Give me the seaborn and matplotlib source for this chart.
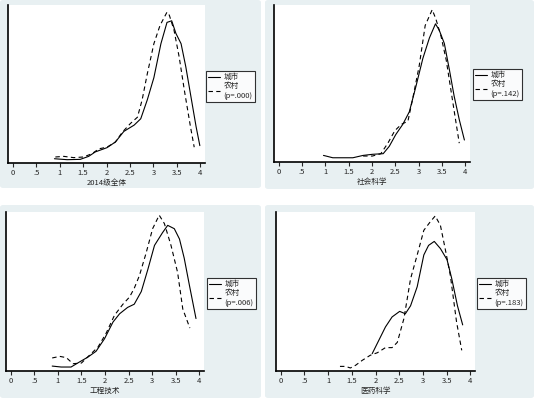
import matplotlib
matplotlib.use("Agg")
import matplotlib.pyplot as plt
import seaborn as sns
from matplotlib.patches import FancyBboxPatch

# curve points (score, relative density)
all_city_x = [0.89, 1.16, 1.44, 1.62, 1.76, 2.01, 2.19, 2.37, 2.59, 2.73, 2.87, 3.01, 3.16, 3.29, 3.39, 3.48, 3.59, 3.69, 3.80, 3.91, 3.99]
all_city_y = [0.027, 0.021, 0.023, 0.042, 0.07, 0.097, 0.133, 0.2, 0.24, 0.28, 0.40, 0.54, 0.755, 0.89, 0.90, 0.82, 0.755, 0.61, 0.42, 0.23, 0.11]
all_rural_x = [0.91, 1.09, 1.3, 1.51, 1.69, 1.84, 2.01, 2.19, 2.34, 2.51, 2.66, 2.76, 2.87, 3.01, 3.14, 3.29, 3.34, 3.44, 3.55, 3.66, 3.79, 3.87]
all_rural_y = [0.038, 0.042, 0.034, 0.038, 0.059, 0.09, 0.10, 0.133, 0.196, 0.25, 0.29, 0.40, 0.565, 0.755, 0.87, 0.955, 0.935, 0.84, 0.67, 0.46, 0.23, 0.10]

soc_city_x = [0.96, 1.16, 1.59, 1.81, 2.01, 2.24, 2.37, 2.51, 2.66, 2.8, 2.94, 3.09, 3.23, 3.36, 3.44, 3.55, 3.66, 3.76, 3.87, 3.98]
soc_city_y = [0.042, 0.027, 0.027, 0.042, 0.049, 0.053, 0.10, 0.175, 0.24, 0.32, 0.48, 0.66, 0.79, 0.88, 0.84, 0.755, 0.585, 0.42, 0.27, 0.14]
soc_rural_x = [1.81, 2.01, 2.19, 2.34, 2.49, 2.63, 2.77, 2.87, 3.01, 3.14, 3.29, 3.37, 3.48, 3.59, 3.69, 3.79, 3.87]
soc_rural_y = [0.038, 0.038, 0.053, 0.12, 0.20, 0.24, 0.26, 0.40, 0.61, 0.87, 0.97, 0.91, 0.80, 0.65, 0.46, 0.27, 0.12]

eng_city_x = [0.88, 1.07, 1.28, 1.46, 1.64, 1.81, 1.99, 2.17, 2.31, 2.48, 2.62, 2.77, 2.91, 3.05, 3.22, 3.33, 3.47, 3.58, 3.68, 3.79, 3.93]
eng_city_y = [0.031, 0.025, 0.025, 0.057, 0.088, 0.124, 0.203, 0.308, 0.36, 0.40, 0.42, 0.50, 0.64, 0.79, 0.87, 0.916, 0.895, 0.83, 0.71, 0.54, 0.33]
eng_rural_x = [0.88, 1.04, 1.18, 1.32, 1.50, 1.67, 1.85, 2.02, 2.2, 2.38, 2.52, 2.62, 2.73, 2.87, 3.01, 3.15, 3.26, 3.40, 3.54, 3.65, 3.80]
eng_rural_y = [0.082, 0.092, 0.084, 0.046, 0.05, 0.099, 0.15, 0.235, 0.35, 0.42, 0.465, 0.52, 0.60, 0.74, 0.895, 0.98, 0.927, 0.79, 0.62, 0.39, 0.27]

med_city_x = [1.93, 2.07, 2.21, 2.35, 2.51, 2.63, 2.74, 2.88, 3.02, 3.12, 3.24, 3.37, 3.51, 3.61, 3.73, 3.84]
med_city_y = [0.109, 0.193, 0.277, 0.34, 0.375, 0.36, 0.41, 0.53, 0.73, 0.79, 0.815, 0.77, 0.70, 0.58, 0.41, 0.29]
med_rural_x = [1.25, 1.37, 1.47, 1.58, 1.72, 1.89, 2.04, 2.21, 2.35, 2.46, 2.6, 2.74, 2.88, 3.02, 3.16, 3.26, 3.37, 3.47, 3.58, 3.71, 3.82]
med_rural_y = [0.029, 0.029, 0.019, 0.036, 0.067, 0.099, 0.115, 0.147, 0.147, 0.18, 0.33, 0.58, 0.73, 0.885, 0.94, 0.975, 0.916, 0.77, 0.60, 0.31, 0.13]

xlabels = ["2014级全体", "社会科学", "工程技术", "医药科学"]
pvalues = ["(p=.000)", "(p=.142)", "(p=.006)", "(p=.183)"]
xticks = [0, 0.5, 1, 1.5, 2, 2.5, 3, 3.5, 4]
xticklabels = ["0", ".5", "1", "1.5", "2", "2.5", "3", "3.5", "4"]

curves = [
    (all_city_x, all_city_y, all_rural_x, all_rural_y),
    (soc_city_x, soc_city_y, soc_rural_x, soc_rural_y),
    (eng_city_x, eng_city_y, eng_rural_x, eng_rural_y),
    (med_city_x, med_city_y, med_rural_x, med_rural_y),
]

sns.set_style("white")
plt.rcParams['font.family'] = ['Noto Sans CJK SC', 'DejaVu Sans']

W, H = 534, 398
fig = plt.figure(figsize=(W / 100, H / 100), dpi=100)
bg = "#e8f0f2"

# panel backgrounds (pixels: x0, y0, x1, y1)
panels = [(0, 0, 261, 188), (265, 0, 534, 189), (0, 205, 261, 398), (265, 205, 534, 398)]
for x0, y0, x1, y1 in panels:
    fig.patches.append(FancyBboxPatch((x0 / W, 1 - y1 / H), (x1 - x0) / W, (y1 - y0) / H,
                                      boxstyle="round,pad=0,rounding_size=0.006",
                                      transform=fig.transFigure, facecolor=bg,
                                      edgecolor="none", zorder=-10))

# plot areas (pixels: x0, y0, x1, y1) and legend upper-left corners
areas = [(8, 5, 205, 163), (274, 5, 470, 162), (6, 212, 204, 371), (276, 212, 475, 371)]
legends = [(206, 71), (473, 69), (207, 278), (477, 278)]

for i, (x0, y0, x1, y1) in enumerate(areas):
    ax = fig.add_axes([x0 / W, 1 - y1 / H, (x1 - x0) / W, (y1 - y0) / H])
    ax.set_facecolor("white")
    cx, cy, rx, ry = curves[i]
    sns.lineplot(x=cx, y=cy, ax=ax, color="black", linewidth=0.8, sort=False,
                 estimator=None, label="城市")
    sns.lineplot(x=rx, y=ry, ax=ax, color="black", linewidth=0.8, sort=False,
                 estimator=None, linestyle=(0, (4, 3)), label="农村\n" + pvalues[i])
    ax.set_xlim(-0.1, 4.1)
    ax.set_ylim(0, 1.0)
    ax.set_xticks(xticks)
    ax.set_xticklabels(xticklabels, fontsize=5.5)
    ax.set_yticks([])
    ax.set_xlabel(xlabels[i], fontsize=5.5, labelpad=1)
    ax.set_ylabel("")
    ax.tick_params(axis="x", length=3, width=0.8, pad=1.5, direction="out", bottom=True)
    for s in ["top", "right"]:
        ax.spines[s].set_visible(False)
    for s in ["left", "bottom"]:
        ax.spines[s].set_color("black")
        ax.spines[s].set_linewidth(1.2)
    lx, ly = legends[i]
    leg = ax.legend(loc="upper left", bbox_to_anchor=(lx / W, 1 - ly / H),
                    bbox_transform=fig.transFigure, fontsize=5.5, frameon=True,
                    fancybox=False, borderaxespad=0, borderpad=0.3,
                    handlelength=1.5, handletextpad=0.5, labelspacing=0.15)
    leg.get_frame().set_edgecolor("black")
    leg.get_frame().set_linewidth(0.8)
    leg.get_frame().set_facecolor("white")

fig.savefig("out.png", dpi=100)
